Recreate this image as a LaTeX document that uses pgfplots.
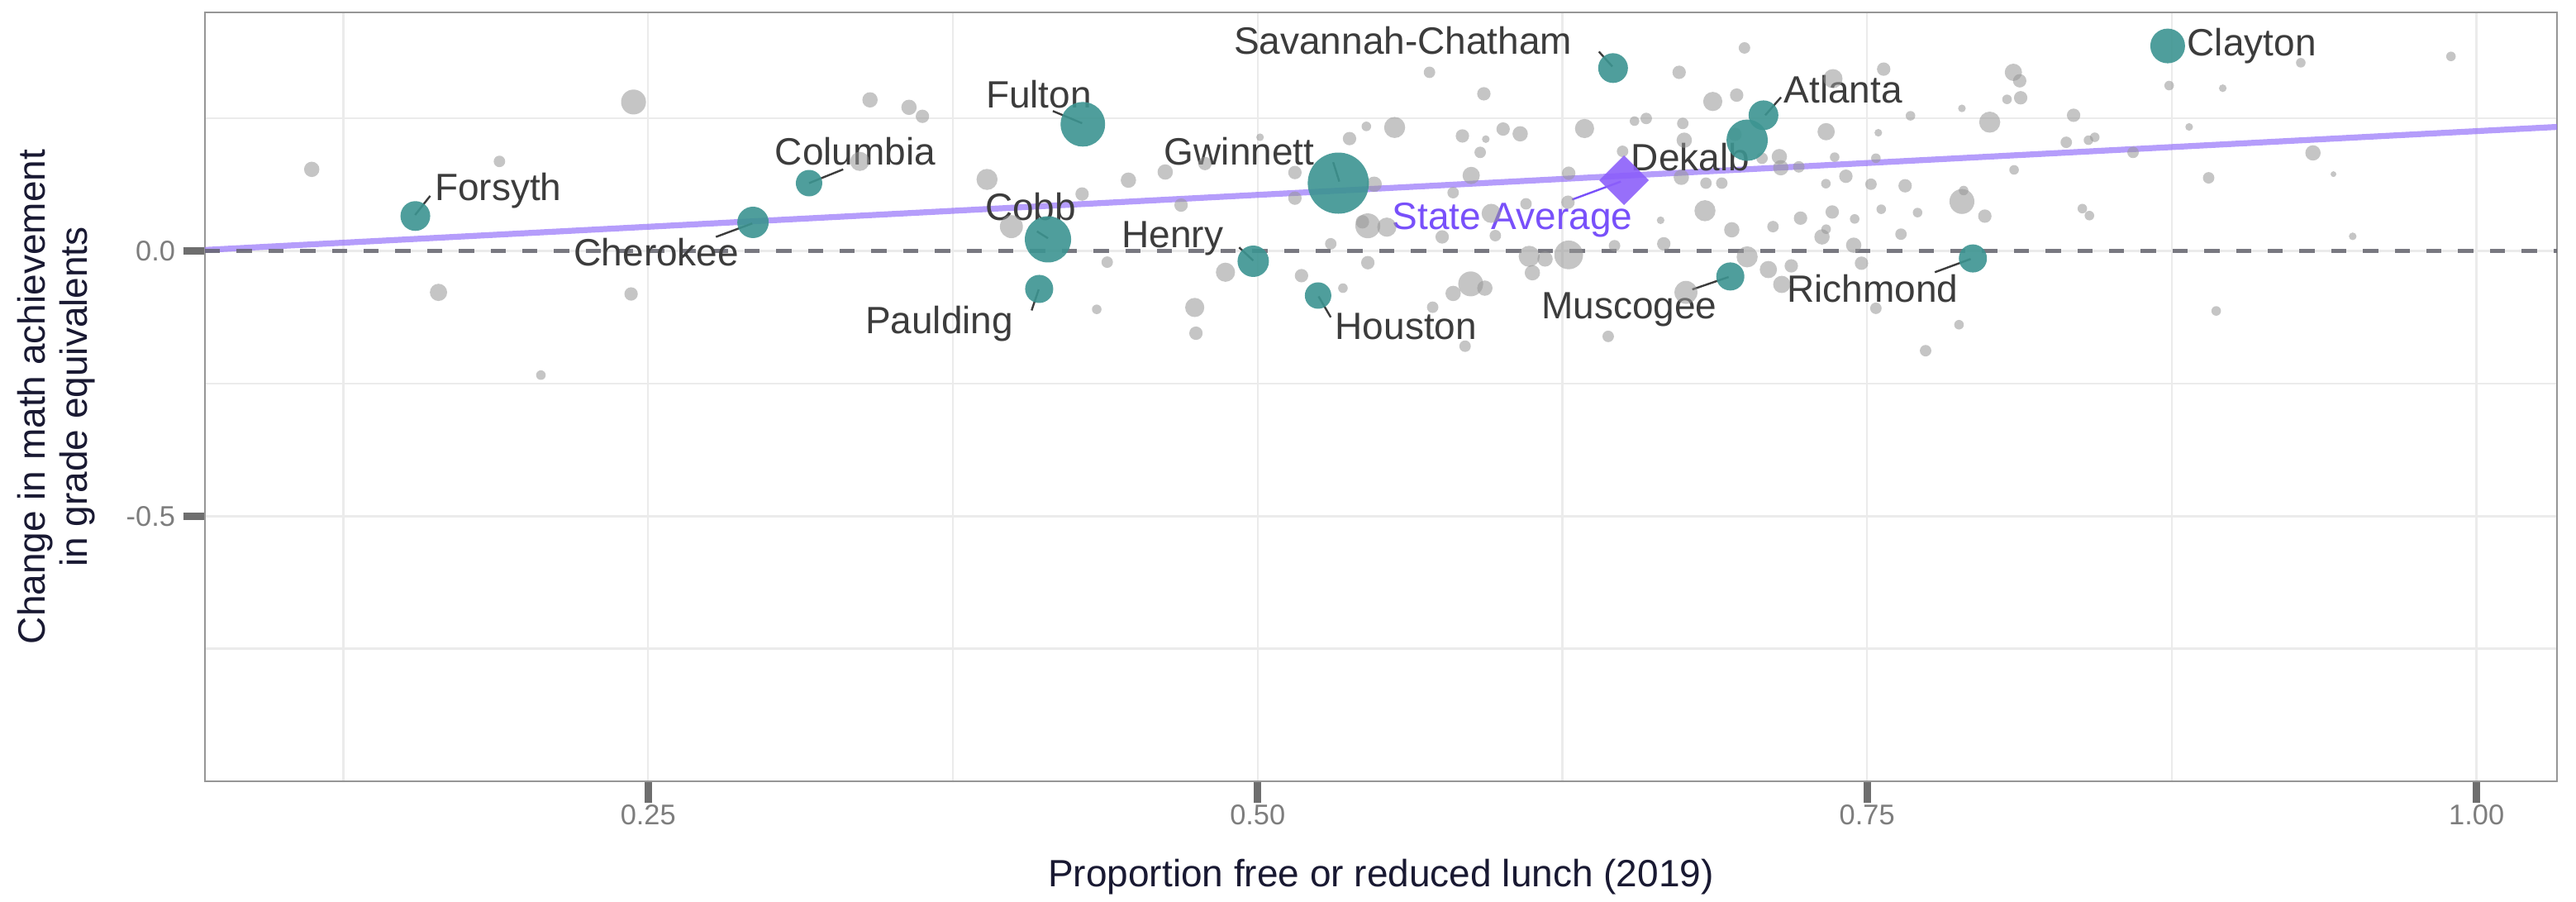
\documentclass[border=0pt]{standalone}
\usepackage{fontspec}
\setmainfont{Liberation Sans}
\usepackage{pgfplots}
\usepackage{pgfplotstable}
\pgfplotsset{compat=1.18}
\definecolor{greyc}{RGB}{150,150,150}
\definecolor{tealc}{RGB}{60,148,145}
\definecolor{fitc}{RGB}{150,115,250}
\definecolor{diac}{RGB}{140,95,250}
\definecolor{avgc}{RGB}{120,80,250}
\definecolor{labc}{RGB}{60,60,60}
\definecolor{titlec}{RGB}{25,25,50}
\definecolor{tickc}{RGB}{110,110,110}
\definecolor{ticklabc}{RGB}{125,125,125}
\definecolor{gridc}{RGB}{235,235,235}
\definecolor{framec}{RGB}{150,150,150}
\definecolor{zeroc}{RGB}{100,100,110}

\pgfplotstableread{
x y r
0.112 0.154 8
0.189 0.169 6
0.244 0.281 13
0.164 -0.078 9
0.243 -0.081 7
0.206 -0.234 5
0.3368 0.169 10
0.341 0.285 8
0.357 0.271 8
0.3625 0.254 7
0.389 0.135 11
0.399 0.046 12
0.428 0.1075 7
0.447 0.1336 8
0.4383 -0.021 6
0.434 -0.110 5
0.4621 0.149 8
0.4686 0.0866 7
0.4784 0.165 7
0.501 0.2145 4
0.5153 0.148 7
0.5153 0.0997 7
0.4868 -0.040 10
0.4742 -0.1065 10
0.4747 -0.155 7
0.518 -0.0465 7
0.535 -0.070 5
0.530 0.0136 6
0.5452 -0.022 7
0.5478 0.126 8
0.5377 0.212 7
0.5446 0.235 5
0.5562 0.233 11
0.5452 0.0475 13
0.543 0.055 7
0.553 0.045 10
0.5705 0.337 6
0.5802 0.110 6
0.5757 0.0266 7
0.584 0.217 7
0.5936 0.211 4
0.5913 0.186 6
0.6007 0.230 7
0.6077 0.221 8
0.5928 0.2965 7
0.5876 0.1425 9
0.5958 0.071 10
0.6101 0.089 6
0.5975 0.029 6
0.6276 0.1467 7
0.6273 0.092 7
0.6341 0.231 10
0.6497 0.188 6
0.6546 0.245 5
0.6594 0.25 6
0.6114 -0.010 11
0.6179 -0.015 8
0.6276 -0.0073 15
0.6127 -0.041 8
0.6464 0.010 6
0.5874 -0.062 13
0.5932 -0.070 8
0.5802 -0.080 8
0.5718 -0.106 6
0.5851 -0.1795 6
0.6438 -0.161 6
0.6729 0.337 7
0.6997 0.383 6
0.6867 0.282 10
0.6965 0.294 7
0.6744 0.2406 6
0.675 0.209 8
0.6958 0.22 7
0.7069 0.175 6
0.714 0.178 8
0.7146 0.157 8
0.722 0.1587 6
0.6738 0.139 8
0.6839 0.128 6
0.6904 0.128 6
0.7332 0.225 9
0.7367 0.177 5
0.736 0.325 10
0.7568 0.343 7
0.7536 0.175 5
0.7546 0.223 4
0.7678 0.255 5
0.7331 0.127 5
0.7413 0.141 7
0.7516 0.126 6
0.7656 0.123 7
0.7889 0.269 4
0.8003 0.243 11
0.8100 0.337 9
0.8126 0.321 7
0.8074 0.286 5
0.8130 0.289 7
0.8347 0.256 7
0.8317 0.205 6
0.8408 0.209 5
0.8434 0.2145 5
0.8103 0.153 5
0.6835 0.076 11
0.6653 0.058 4
0.6945 0.040 8
0.7114 0.046 6
0.7227 0.062 7
0.7357 0.0736 7
0.7449 0.0605 5
0.7558 0.0788 5
0.7332 0.0412 5
0.7315 0.0266 8
0.7445 0.011 8
0.7639 0.0318 6
0.7707 0.0725 5
0.7889 0.0934 13
0.7896 0.114 5
0.7983 0.0658 7
0.6666 0.0136 7
0.7008 -0.011 11
0.7095 -0.035 9
0.7189 -0.028 7
0.715 -0.063 9
0.7477 -0.023 7
0.7536 -0.108 6
0.7877 -0.139 5
0.774 -0.188 6
0.6757 -0.078 12
0.8383 0.080 5
0.8412 0.0668 5
0.8739 0.312 5
0.8959 0.307 4
0.9279 0.355 5
0.9895 0.367 5
0.8821 0.234 4
0.8591 0.186 6
0.9329 0.185 8
0.8901 0.138 6
0.9413 0.145 3
0.9492 0.0277 4
0.8932 -0.113 5
}\greydata

\pgfplotstableread{
x y r
0.1545 0.066 18
0.293 0.054 19
0.316 0.128 16
0.4283 0.239 27
0.414 0.022 28
0.4104 -0.0715 17
0.4982 -0.0193 19
0.5248 -0.084 16
0.5331 0.128 37
0.6458 0.345 18
0.7008 0.209 25
0.7075 0.256 18
0.6939 -0.048 17
0.7934 -0.014 17
0.8733 0.3867 21
}\tealdata

\tikzset{lab/.style={font=\fontsize{11.5}{13.8}\selectfont, text=labc, inner sep=0pt},
  seg/.style={labc, line width=0.6pt}}

\begin{document}
\begin{tikzpicture}
\path[use as bounding box] (0,0) rectangle (779.25pt,272.75pt);
\begin{axis}[
  at={(62pt,36.5pt)}, anchor=south west,
  scale only axis, width=711.5pt, height=232.5pt,
  xmin=0.0682, xmax=1.033, ymin=-1.0, ymax=0.45,
  xtick={0.25,0.5,0.75,1.0}, xticklabels={0.25,0.50,0.75,1.00},
  ytick={-0.5,0}, yticklabels={-0.5,0.0},
  minor xtick={0.125,0.375,0.625,0.875},
  minor ytick={-0.75,-0.25,0.25},
  grid=both,
  major grid style={gridc, line width=0.6pt},
  minor grid style={gridc, line width=0.6pt},
  tick pos=left, tick align=outside,
  major tick length=6.6pt, minor tick length=0pt,
  tick style={tickc, line width=2.2pt},
  axis line style={framec, line width=0.6pt},
  xticklabel style={font=\fontsize{8.6}{10}\selectfont, text=ticklabc, anchor=center, inner sep=0pt, yshift=-3.6pt},
  yticklabel style={font=\fontsize{8.6}{10}\selectfont, text=ticklabc, anchor=east, inner sep=0pt, xshift=-2.2pt},
  xlabel={Proportion free or reduced lunch (2019)},
  ylabel={Change in math achievement\\in grade equivalents},
  xlabel style={at={(axis description cs:0.5,0)}, anchor=base, yshift=-32pt, font=\fontsize{11.5}{13.8}\selectfont, text=titlec, inner sep=0pt},
  ylabel style={at={(axis description cs:-0.0465,0.5)}, anchor=south, align=center, font=\fontsize{11.5}{12.8}\selectfont, text=titlec, inner sep=0pt},
  clip=false,
]
\addplot[scatter, only marks, mark=*,
  scatter/use mapped color={draw opacity=0, fill=greyc, fill opacity=0.55},
  visualization depends on={0.29*\thisrow{r} \as \perpointmarksize},
  scatter/@pre marker code/.append style={/tikz/mark size=\perpointmarksize}]
  table[x=x,y=y]{\greydata};
\addplot[scatter, only marks, mark=*,
  scatter/use mapped color={draw opacity=0, fill=tealc, fill opacity=0.9},
  visualization depends on={0.25*\thisrow{r} \as \perpointmarksize},
  scatter/@pre marker code/.append style={/tikz/mark size=\perpointmarksize}]
  table[x=x,y=y]{\tealdata};
\addplot[fitc, opacity=0.7, line width=1.8pt] coordinates {(0.0682,0.002) (1.033,0.234)};
\addplot[zeroc, line width=1.25pt, dash pattern=on 4.6pt off 5pt, opacity=0.85] coordinates {(0.0682,0) (1.033,0)};
\addplot[only marks, mark=square*, mark size=5.3pt,
  mark options={rotate=45, fill=diac, draw=diac, fill opacity=0.9, draw opacity=0}]
  coordinates {(0.6503,0.1336)};

% connector segments
\draw[seg] (axis cs:0.1544,0.068) -- (axis cs:0.1606,0.104);
\draw[seg] (axis cs:0.2927,0.052) -- (axis cs:0.2778,0.0266);
\draw[seg] (axis cs:0.316,0.128) -- (axis cs:0.33,0.154);
\draw[seg] (axis cs:0.428,0.241) -- (axis cs:0.416,0.264);
\draw[seg] (axis cs:0.414,0.024) -- (axis cs:0.4095,0.037);
\draw[seg] (axis cs:0.4102,-0.0725) -- (axis cs:0.4073,-0.112);
\draw[seg] (axis cs:0.4982,-0.018) -- (axis cs:0.4924,0.0068);
\draw[seg] (axis cs:0.5335,0.131) -- (axis cs:0.531,0.1675);
\draw[seg] (axis cs:0.525,-0.0856) -- (axis cs:0.530,-0.125);
\draw[seg] (axis cs:0.6455,0.348) -- (axis cs:0.640,0.376);
\draw[seg] (axis cs:0.7082,0.256) -- (axis cs:0.7147,0.290);
\draw[seg] (axis cs:0.6932,-0.049) -- (axis cs:0.6783,-0.0725);
\draw[seg] (axis cs:0.7925,-0.015) -- (axis cs:0.7778,-0.040);
\draw[avgc, line width=0.6pt] (axis cs:0.649,0.131) -- (axis cs:0.629,0.097);

% labels
\node[lab, anchor=base west] at (axis cs:0.1622,0.0955) {Forsyth};
\node[lab, anchor=base east] at (axis cs:0.2875,-0.028) {Cherokee};
\node[lab, anchor=base west] at (axis cs:0.3018,0.162) {Columbia};
\node[lab, anchor=base west] at (axis cs:0.3883,0.270) {Fulton};
\node[lab, anchor=base west] at (axis cs:0.388,0.058) {Cobb};
\node[lab, anchor=base west] at (axis cs:0.3388,-0.155) {Paulding};
\node[lab, anchor=base east] at (axis cs:0.4862,0.007) {Henry};
\node[lab, anchor=base west] at (axis cs:0.4615,0.162) {Gwinnett};
\node[lab, anchor=base west] at (axis cs:0.5316,-0.1665) {Houston};
\node[lab, anchor=base west] at (axis cs:0.490,0.371) {Savannah-Chatham};
\node[lab, anchor=base west, text=avgc] at (axis cs:0.555,0.040) {State Average};
\node[lab, anchor=base west] at (axis cs:0.653,0.152) {Dekalb};
\node[lab, anchor=base west] at (axis cs:0.7156,0.280) {Atlanta};
\node[lab, anchor=base west] at (axis cs:0.6162,-0.128) {Muscogee};
\node[lab, anchor=base west] at (axis cs:0.7169,-0.096) {Richmond};
\node[lab, anchor=base west] at (axis cs:0.8811,0.3685) {Clayton};
\end{axis}
\end{tikzpicture}
\end{document}
